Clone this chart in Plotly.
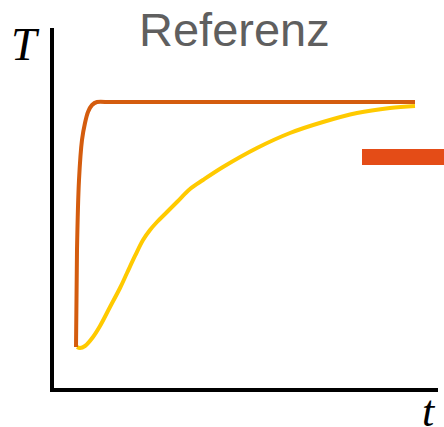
import plotly.graph_objects as go

# --- data (arbitrary units: t on 0..10, T on 0..10) ---
fast_t = [0.573, 0.599, 0.651, 0.729, 0.807, 0.885, 0.990, 1.120, 1.458, 9.401]
fast_T = [1.139, 3.833, 5.778, 6.889, 7.361, 7.667, 7.861, 7.944, 7.944, 7.944]

slow_t = [0.599, 0.677, 0.807, 1.016, 1.198, 1.458, 1.719, 1.901, 2.109, 2.318, 2.500,
          2.682, 2.943, 3.203, 3.542, 3.880, 4.401, 5.286, 6.146, 7.005, 7.891, 8.750, 9.401]
slow_T = [1.139, 1.111, 1.167, 1.417, 1.722, 2.250, 2.778, 3.194, 3.667, 4.111, 4.389,
          4.611, 4.889, 5.167, 5.528, 5.778, 6.139, 6.667, 7.083, 7.389, 7.639, 7.778, 7.833]

title_text = "Referenz"
y_label = "T"
x_label = "t"

W, H = 444, 427
X0, X1 = 54, 438   # plot area in px
Y0, Y1 = 28, 388


def px_x(p):
    return p / W


def px_y(p):
    return 1 - p / H


fig = go.Figure()
fig.add_trace(go.Scatter(x=slow_t, y=slow_T, mode="lines",
                         line=dict(color="#FFCA00", width=4, shape="spline", smoothing=1.0),
                         showlegend=False, hoverinfo="skip"))
fig.add_trace(go.Scatter(x=fast_t, y=fast_T, mode="lines",
                         line=dict(color="#D45C0E", width=4, shape="spline", smoothing=0.6),
                         showlegend=False, hoverinfo="skip"))

fig.update_layout(
    width=W, height=H,
    margin=dict(l=0, r=0, t=0, b=0),
    paper_bgcolor="white", plot_bgcolor="white",
    xaxis=dict(domain=[px_x(X0), px_x(X1)], range=[0, 10], showgrid=False, zeroline=False,
               showticklabels=False, ticks="", showline=True, linecolor="black", linewidth=4),
    yaxis=dict(domain=[px_y(Y1), px_y(Y0)], range=[0, 10], showgrid=False, zeroline=False,
               showticklabels=False, ticks="", showline=True, linecolor="black", linewidth=4),
    shapes=[dict(type="rect", xref="paper", yref="paper",
                 x0=px_x(362), x1=1.0, y0=px_y(165), y1=px_y(149),
                 fillcolor="#E44C17", line=dict(width=0))],
    annotations=[
        dict(text=title_text, xref="paper", yref="paper", x=px_x(234.5), y=px_y(30),
             xanchor="center", yanchor="middle", showarrow=False,
             font=dict(family="Liberation Sans, Arial", size=47, color="#5F5F5F")),
        dict(text="<i>" + y_label + "</i>", xref="paper", yref="paper", x=px_x(25.5), y=px_y(44),
             xanchor="center", yanchor="middle", showarrow=False,
             font=dict(family="Liberation Serif, Times New Roman", size=46, color="black")),
        dict(text="<i>" + x_label + "</i>", xref="paper", yref="paper", x=px_x(429), y=px_y(411),
             xanchor="center", yanchor="middle", showarrow=False,
             font=dict(family="Liberation Serif, Times New Roman", size=44, color="black")),
    ],
)

fig.write_html("out.html", config={"displayModeBar": False},
               post_script="document.body.style.margin='0';document.body.style.overflow='hidden';")
